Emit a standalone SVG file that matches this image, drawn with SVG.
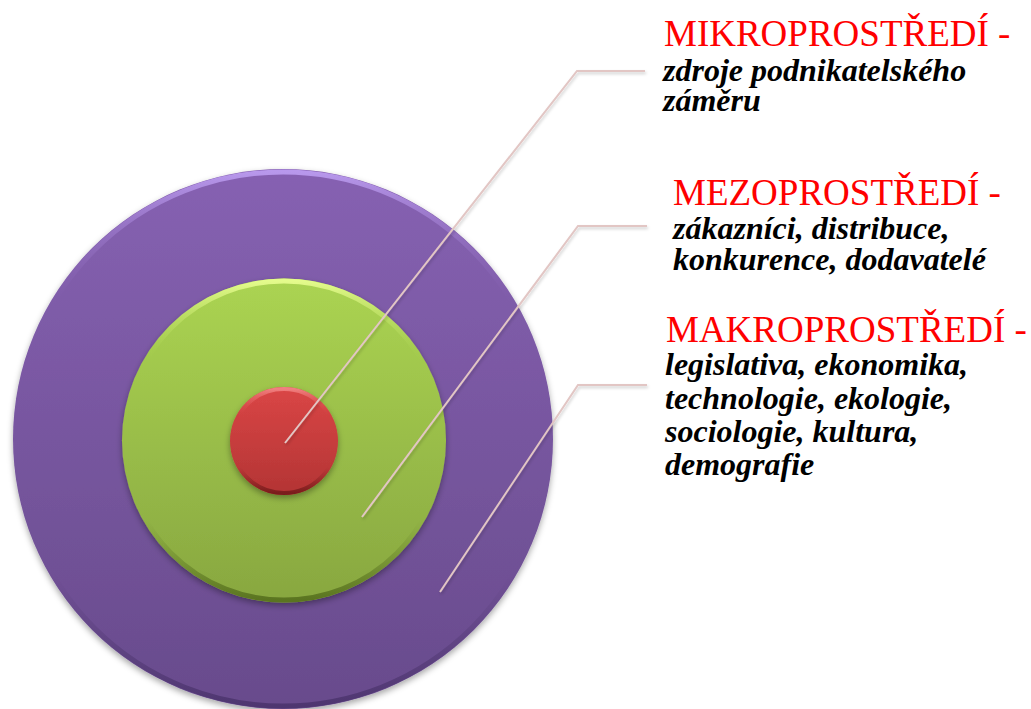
<svg xmlns="http://www.w3.org/2000/svg" width="1031" height="709" viewBox="0 0 1031 709">
<style>
.title{font-family:"Liberation Serif","Times New Roman",serif;font-size:37px;fill:#ff0000;}
.desc{font-family:"Liberation Serif","Times New Roman",serif;font-size:32px;font-weight:bold;font-style:italic;fill:#000000;}
.conn{fill:none;stroke:#e2c6c4;stroke-width:2;filter:url(#lshadow);}
</style>
<defs>
<linearGradient id="gPurple" x1="0" y1="0" x2="0" y2="1">
<stop offset="0" stop-color="#8661b2"/>
<stop offset="1" stop-color="#684b8c"/>
</linearGradient>
<linearGradient id="bPurple" x1="0" y1="0" x2="0" y2="1">
<stop offset="0" stop-color="#b898ec"/>
<stop offset="0.25" stop-color="#8661b2" stop-opacity="0"/>
<stop offset="0.75" stop-color="#5e4280" stop-opacity="0"/>
<stop offset="1" stop-color="#4e3670"/>
</linearGradient>
<linearGradient id="gGreen" x1="0" y1="0" x2="0" y2="1">
<stop offset="0" stop-color="#abd452"/>
<stop offset="1" stop-color="#88a740"/>
</linearGradient>
<linearGradient id="bGreen" x1="0" y1="0" x2="0" y2="1">
<stop offset="0" stop-color="#e4fb8c"/>
<stop offset="0.25" stop-color="#abd452" stop-opacity="0"/>
<stop offset="0.75" stop-color="#6e8a30" stop-opacity="0"/>
<stop offset="1" stop-color="#5a7420"/>
</linearGradient>
<linearGradient id="gRed" x1="0" y1="0" x2="0" y2="1">
<stop offset="0" stop-color="#da4646"/>
<stop offset="1" stop-color="#b33434"/>
</linearGradient>
<linearGradient id="bRed" x1="0" y1="0" x2="0" y2="1">
<stop offset="0" stop-color="#f08080"/>
<stop offset="0.25" stop-color="#da4646" stop-opacity="0"/>
<stop offset="0.75" stop-color="#902424" stop-opacity="0"/>
<stop offset="1" stop-color="#7a1c1c"/>
</linearGradient>
<filter id="shadow" x="-10%" y="-10%" width="120%" height="125%">
<feDropShadow dx="0" dy="3" stdDeviation="3" flood-color="#000" flood-opacity="0.35"/>
</filter>
<filter id="lshadow" x="-10%" y="-10%" width="120%" height="120%">
<feDropShadow dx="1" dy="2" stdDeviation="1.5" flood-color="#000" flood-opacity="0.2"/>
</filter>
</defs>
<g id="makro-circle">
<circle cx="283" cy="439" r="270" fill="url(#gPurple)" filter="url(#shadow)"/>
<circle cx="283" cy="439" r="267" fill="none" stroke="url(#bPurple)" stroke-width="5"/>
</g>
<g id="mezo-circle">
<circle cx="284" cy="440.5" r="162" fill="url(#gGreen)" filter="url(#shadow)"/>
<circle cx="284" cy="440.5" r="159.5" fill="none" stroke="url(#bGreen)" stroke-width="5"/>
</g>
<g id="mikro-circle">
<circle cx="284" cy="441" r="54" fill="url(#gRed)" filter="url(#shadow)"/>
<circle cx="284" cy="441" r="52" fill="none" stroke="url(#bRed)" stroke-width="4"/>
</g>
<g id="connectors">
<polyline class="conn" points="285,443 577,71 645,71"/>
<polyline class="conn" points="362,517 578,226 647,226"/>
<polyline class="conn" points="440,592 578,385 647,385"/>
</g>
<g id="mikro-label">
<text class="title" x="664" y="46">MIKROPROSTŘEDÍ -</text>
<text class="desc" x="663" y="81">zdroje podnikatelského</text>
<text class="desc" x="663" y="111">záměru</text>
</g>
<g id="mezo-label">
<text class="title" x="673" y="205">MEZOPROSTŘEDÍ -</text>
<text class="desc" x="673" y="239">zákazníci, distribuce,</text>
<text class="desc" x="673" y="270">konkurence, dodavatelé</text>
</g>
<g id="makro-label">
<text class="title" x="666" y="342">MAKROPROSTŘEDÍ -</text>
<text class="desc" x="665" y="375">legislativa, ekonomika,</text>
<text class="desc" x="665" y="409">technologie, ekologie,</text>
<text class="desc" x="665" y="442">sociologie, kultura,</text>
<text class="desc" x="665" y="475">demografie</text>
</g>
</svg>
